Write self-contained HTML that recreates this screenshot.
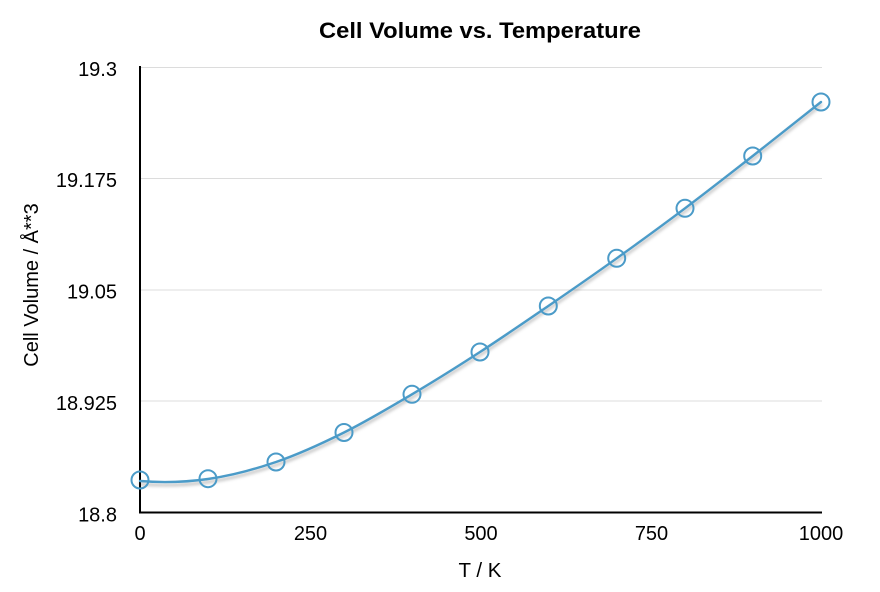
<!DOCTYPE html>
<html>
<head>
<meta charset="utf-8">
<style>
  html, body { margin: 0; padding: 0; background: #fff; }
  svg { display: block; }
  text { font-family: "Liberation Sans", "DejaVu Sans", sans-serif; fill: #000; }
</style>
</head>
<body>
<svg width="880" height="592" viewBox="0 0 880 592" xmlns="http://www.w3.org/2000/svg">
  <defs>
    <filter id="sh" x="-10%" y="-10%" width="120%" height="130%">
      <feDropShadow dx="0" dy="3" stdDeviation="1.5" flood-color="#000" flood-opacity="0.28"/>
    </filter>
  </defs>
  <rect width="880" height="592" fill="#fff"/>

  <!-- gridlines -->
  <g stroke="#dcdcdc" stroke-width="1">
    <line x1="140" y1="67.5" x2="822" y2="67.5"/>
    <line x1="140" y1="178.5" x2="822" y2="178.5"/>
    <line x1="140" y1="290" x2="822" y2="290"/>
    <line x1="140" y1="401" x2="822" y2="401"/>
  </g>

  <!-- axes -->
  <line x1="140" y1="66" x2="140" y2="513.5" stroke="#000" stroke-width="2"/>
  <line x1="139" y1="512.5" x2="822" y2="512.5" stroke="#000" stroke-width="2"/>

  <!-- title -->
  <text x="480" y="38" font-size="22" font-weight="bold" text-anchor="middle" textLength="322" lengthAdjust="spacingAndGlyphs">Cell Volume vs. Temperature</text>

  <!-- y tick labels -->
  <g font-size="20" text-anchor="end">
    <text x="117" y="76">19.3</text>
    <text x="117" y="187">19.175</text>
    <text x="117" y="298.5">19.05</text>
    <text x="117" y="410">18.925</text>
    <text x="117" y="521.5">18.8</text>
  </g>

  <!-- x tick labels -->
  <g font-size="20" text-anchor="middle">
    <text x="140" y="540">0</text>
    <text x="310.5" y="540">250</text>
    <text x="481" y="540">500</text>
    <text x="651.5" y="540">750</text>
    <text x="821" y="540">1000</text>
  </g>

  <!-- axis titles -->
  <text x="480" y="577" font-size="20.5" text-anchor="middle">T / K</text>
  <text transform="translate(38,285) rotate(-90)" font-size="20" text-anchor="middle">Cell Volume / Å**3</text>

  <!-- curve -->
  <path filter="url(#sh)" fill="none" stroke="#4b9bc8" stroke-width="2.4" stroke-linecap="round"
    d="M140,481
       C163,483 185.3,482.2 208,479
       C230.7,475.8 253.3,469.75 276,462
       C298.7,454.25 321.3,443.8 344,432.5
       C366.7,421.2 389.3,407.7 412,394.3
       C434.7,380.9 457.3,366.7 480,352
       C502.7,337.3 525.5,321.6 548.3,306
       C571.1,290.4 593.9,274.6 616.7,258.3
       C639.5,242 662.3,225.4 685,208.3
       C707.7,191.25 730,173.7 752.7,156
       C775.4,138.3 798.2,120 821,102"/>

  <!-- markers -->
  <g fill="none" stroke="#4b9bc8" stroke-width="2">
    <circle cx="140" cy="480" r="8.5"/>
    <circle cx="208" cy="478.7" r="8.5"/>
    <circle cx="276" cy="462" r="8.5"/>
    <circle cx="344" cy="432.5" r="8.5"/>
    <circle cx="412" cy="394.3" r="8.5"/>
    <circle cx="480" cy="352" r="8.5"/>
    <circle cx="548.3" cy="306" r="8.5"/>
    <circle cx="616.7" cy="258.3" r="8.5"/>
    <circle cx="685" cy="208.3" r="8.5"/>
    <circle cx="752.7" cy="156" r="8.5"/>
    <circle cx="821" cy="102" r="8.5"/>
  </g>
</svg>
</body>
</html>
